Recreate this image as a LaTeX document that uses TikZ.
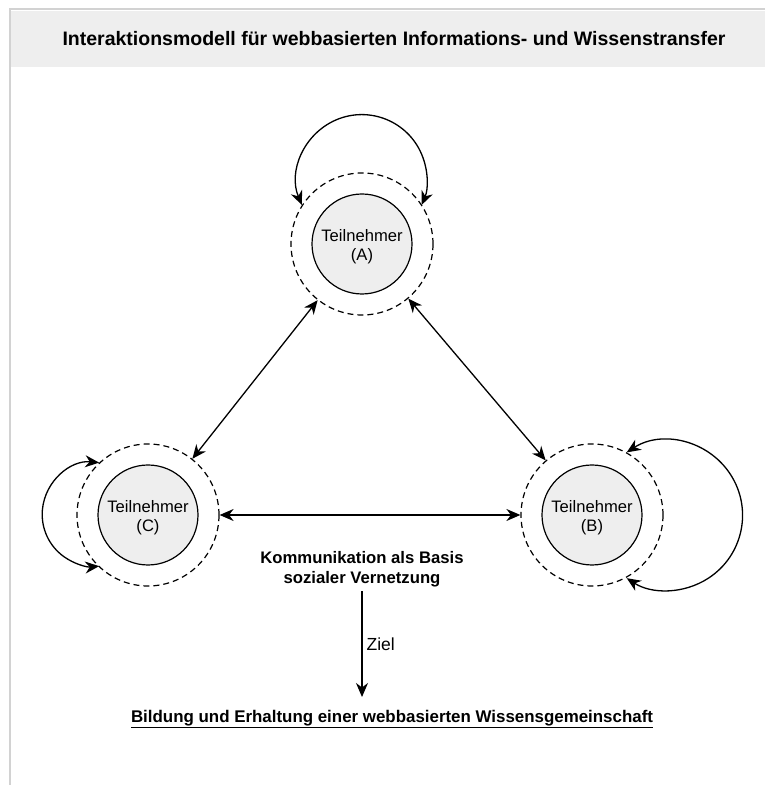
\documentclass[tikz,border=0pt]{standalone}
\usepackage{fontspec}
\setmainfont{Liberation Sans}
\usetikzlibrary{arrows.meta}
\definecolor{panelgray}{HTML}{EEEEEE}
\definecolor{framegray}{HTML}{D2D2D2}
% two-line participant label, drawn slightly below the circle centre
\newcommand\participant[1]{\raisebox{-3pt}[\height][\depth]{\begin{tabular}{@{}c@{}}Teilnehmer\\(#1)\end{tabular}}}
\begin{document}
\begin{tikzpicture}[x=1pt,y=1pt,
  tip/.style={-{Stealth[length=14pt,width=12pt,inset=4.5pt]}},
  link/.style={line width=1.3pt,{Stealth[length=14pt,width=12pt,inset=4.5pt]}-{Stealth[length=14pt,width=12pt,inset=4.5pt]}},
  halo/.style={circle,draw,dash pattern=on 6pt off 4pt,line width=1.2pt,minimum size=142pt,inner sep=0pt},
  person/.style={circle,draw,fill=panelgray,line width=1.2pt,minimum size=100pt,inner sep=0pt,
    font=\fontsize{16.6}{19}\selectfont},
]
\useasboundingbox (0,0) rectangle (765,785);
% header band and frame
\fill[panelgray] (11,718) rectangle (765,774);
\draw[framegray,line width=2pt] (10,0) -- (10,776) -- (765,776);
\node[font=\fontsize{19.5}{23}\selectfont\bfseries] (title) at (394,746)
  {Interaktionsmodell für webbasierten Informations- und Wissenstransfer};

% participants
\node[halo] (Ad) at (362,541) {};
\node[person] (A) at (362,541) {\participant{A}};
\node[halo] (Bd) at (592,270) {};
\node[person] (B) at (592,270) {\participant{B}};
\node[halo] (Cd) at (148,270) {};
\node[person] (C) at (148,270) {\participant{C}};

% mutual communication
\draw[link] (Ad) -- (Cd);
\draw[link] (Ad) -- (Bd);
\draw[link] (Cd) -- (Bd);

% self reflection loops
\draw[link] (Ad.147) arc[start angle=203,end angle=-23,radius=65];
\draw[link] (Cd.133) arc[start angle=84.5,end angle=275.5,radius=52];
\draw[link] (Bd.61) arc[start angle=123,end angle=-123,radius=75];

% goal
\node[font=\fontsize{16.7}{20}\selectfont\bfseries,align=center] (basis) at (362,216)
  {Kommunikation als Basis\\sozialer Vernetzung};
\node[font=\fontsize{16.9}{20}\selectfont\bfseries] (goal) at (392,66)
  {\underline{Bildung und Erhaltung einer webbasierten Wissensgemeinschaft}};
\coordinate (goaltop) at (362,88);
\draw[line width=1.3pt,tip] (basis.south -| goaltop) ++(0,-1) -- node[right,font=\fontsize{17.5}{20}\selectfont,inner sep=4pt] {Ziel} (goaltop);
\end{tikzpicture}
\end{document}
